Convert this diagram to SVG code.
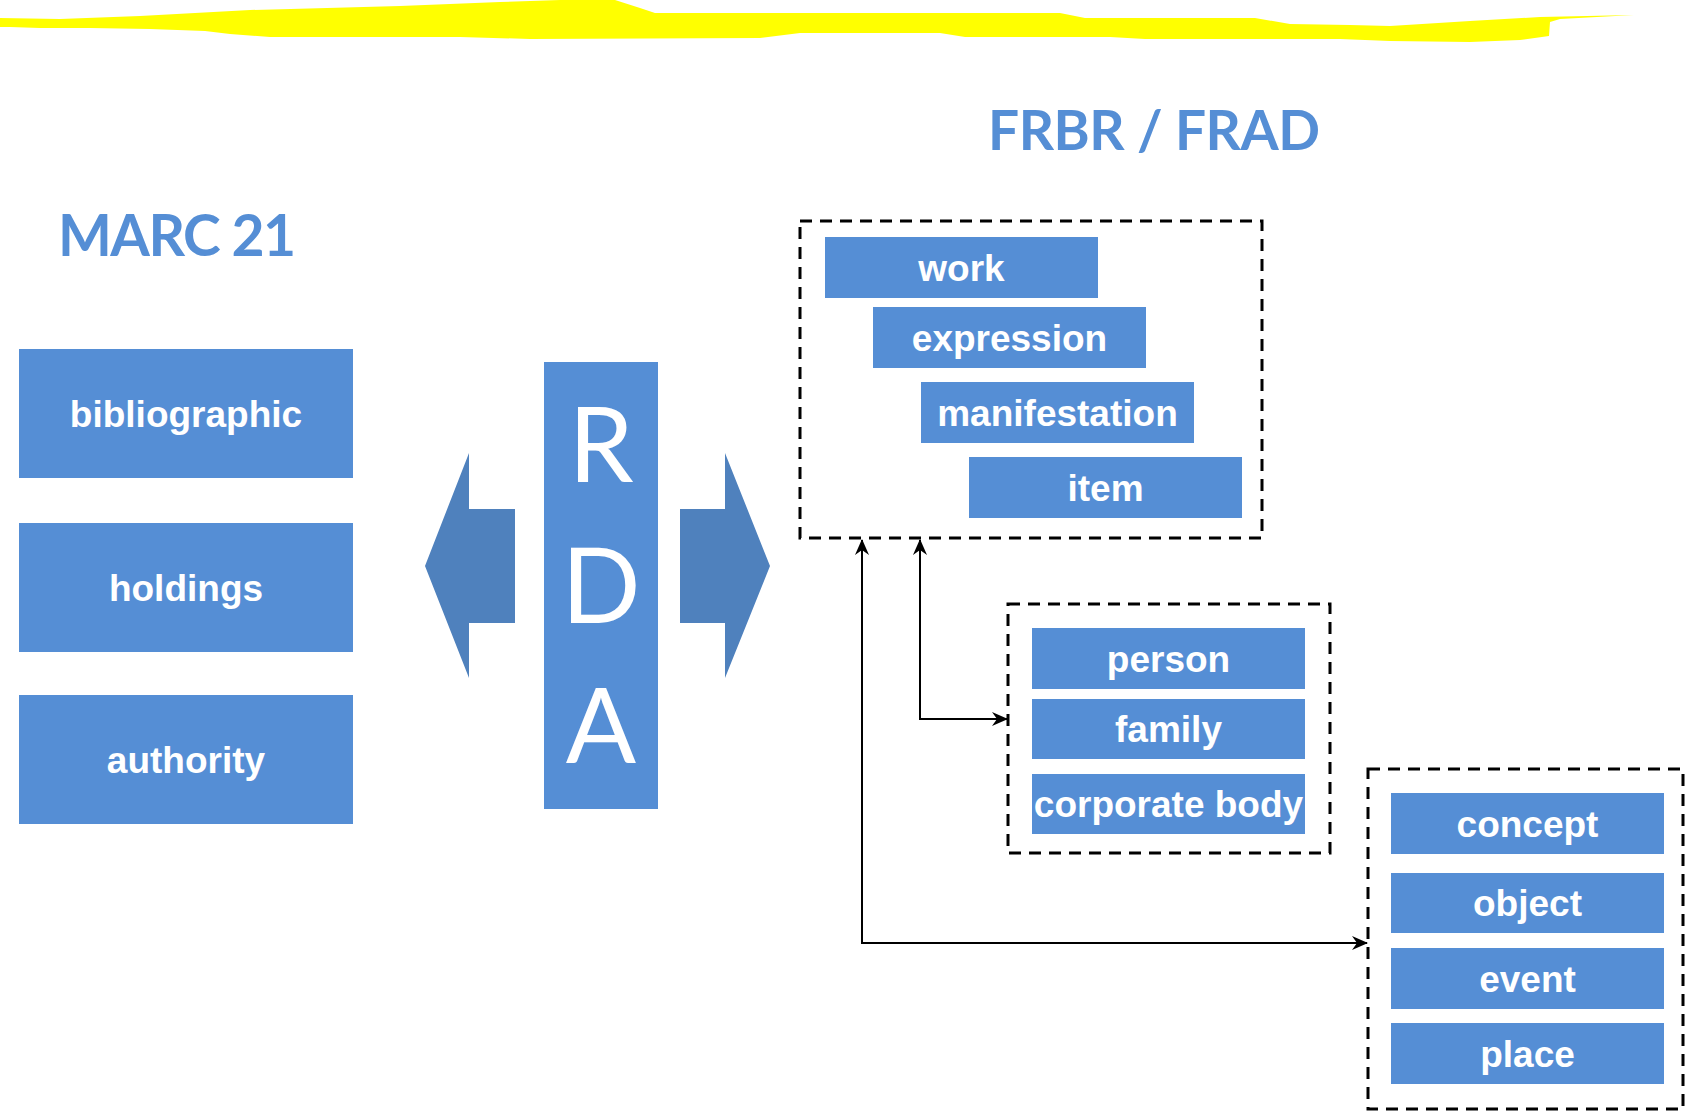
<svg xmlns="http://www.w3.org/2000/svg" width="1686" height="1114" viewBox="0 0 1686 1114">
<style>
.box{fill:#558ED5;}
.lbl{font-family:"Liberation Sans",Arial,sans-serif;font-weight:bold;font-size:37px;fill:#ffffff;text-anchor:middle;}
.title{font-family:Lato,"Open Sans",sans-serif;font-weight:bold;fill:#558ED5;}
.rda{font-family:Lato,"Open Sans",sans-serif;font-size:104px;fill:#ffffff;text-anchor:middle;}
.dash{fill:none;stroke:#000;stroke-width:3;stroke-dasharray:12 8;}
.conn{fill:none;stroke:#000;stroke-width:2;}
.fat{fill:#4F81BD;}
</style>
<defs>
<marker id="ah" viewBox="0 0 16 14" refX="15" refY="7" markerWidth="16" markerHeight="14" markerUnits="userSpaceOnUse" orient="auto-start-reverse">
<path d="M0,0 L16,7 L0,14 L5,7 z" fill="#000"/>
</marker>
</defs>
<rect width="1686" height="1114" fill="#ffffff"/>
<g id="highlight">
<path d="M0,18 L60,19 L140,16 L250,10 L400,6 L500,2 L560,0 L615,0 L640,8 L655,13 L1060,13 L1085,18 L1255,18 L1290,24 L1350,25 L1390,26 L1470,21 L1540,17 L1634,15 L1560,19 L1550,22 L1549,36 L1520,40 L1470,42 L1390,41 L1340,39 L1145,39 L1110,37 L965,37 L940,33 L800,33 L760,38 L530,39 L460,37 L270,37 L230,34 L205,31 L150,29 L90,28 L40,28 L10,27 L0,27 Z" fill="#FFFF00"/>
</g>
<g id="marc21">
<text class="title" x="58" y="256" font-size="57" textLength="238" lengthAdjust="spacing">MARC 21</text>
</g>
<g id="frbr-frad">
<text class="title" x="988" y="150" font-size="55" textLength="332" lengthAdjust="spacing">FRBR / FRAD</text>
</g>
<g id="bibliographic"><rect class="box" x="19" y="349" width="334" height="129"/><text class="lbl" x="186" y="427">bibliographic</text></g>
<g id="holdings"><rect class="box" x="19" y="523" width="334" height="129"/><text class="lbl" x="186" y="601">holdings</text></g>
<g id="authority"><rect class="box" x="19" y="695" width="334" height="129"/><text class="lbl" x="186" y="773">authority</text></g>
<g id="arrow-left"><polygon class="fat" points="425,566 469,453 469,509 515,509 515,623 469,623 469,678"/></g>
<g id="rda">
<rect class="box" x="544" y="362" width="114" height="447"/>
<text class="rda" x="601" y="482">R</text>
<text class="rda" x="601" y="623">D</text>
<text class="rda" x="601" y="763">A</text>
</g>
<g id="arrow-right"><polygon class="fat" points="680,509 725,509 725,453 770,566 725,678 725,623 680,623"/></g>
<g id="group-frbr">
<rect class="dash" x="800" y="221" width="462" height="317"/>
<g id="work"><rect class="box" x="825" y="237" width="273" height="61"/><text class="lbl" x="961.5" y="281">work</text></g>
<g id="expression"><rect class="box" x="873" y="307" width="273" height="61"/><text class="lbl" x="1009.5" y="351">expression</text></g>
<g id="manifestation"><rect class="box" x="921" y="382" width="273" height="61"/><text class="lbl" x="1057.5" y="426">manifestation</text></g>
<g id="item"><rect class="box" x="969" y="457" width="273" height="61"/><text class="lbl" x="1105.5" y="501">item</text></g>
</g>
<g id="group-agents">
<rect class="dash" x="1008" y="604" width="322" height="249"/>
<g id="person"><rect class="box" x="1032" y="628" width="273" height="61"/><text class="lbl" x="1168.5" y="672">person</text></g>
<g id="family"><rect class="box" x="1032" y="699" width="273" height="60"/><text class="lbl" x="1168.5" y="742">family</text></g>
<g id="corporate-body"><rect class="box" x="1032" y="774" width="273" height="60"/><text class="lbl" x="1168.5" y="817">corporate body</text></g>
</g>
<g id="group-subjects">
<rect class="dash" x="1368" y="769" width="315" height="340"/>
<g id="concept"><rect class="box" x="1391" y="793" width="273" height="61"/><text class="lbl" x="1527.5" y="837">concept</text></g>
<g id="object"><rect class="box" x="1391" y="873" width="273" height="60"/><text class="lbl" x="1527.5" y="916">object</text></g>
<g id="event"><rect class="box" x="1391" y="948" width="273" height="61"/><text class="lbl" x="1527.5" y="992">event</text></g>
<g id="place"><rect class="box" x="1391" y="1023" width="273" height="61"/><text class="lbl" x="1527.5" y="1067">place</text></g>
</g>
<g id="connectors">
<polyline class="conn" points="862,540 862,943 1367,943" marker-start="url(#ah)" marker-end="url(#ah)"/>
<polyline class="conn" points="920,540 920,719 1007,719" marker-start="url(#ah)" marker-end="url(#ah)"/>
</g>
</svg>
